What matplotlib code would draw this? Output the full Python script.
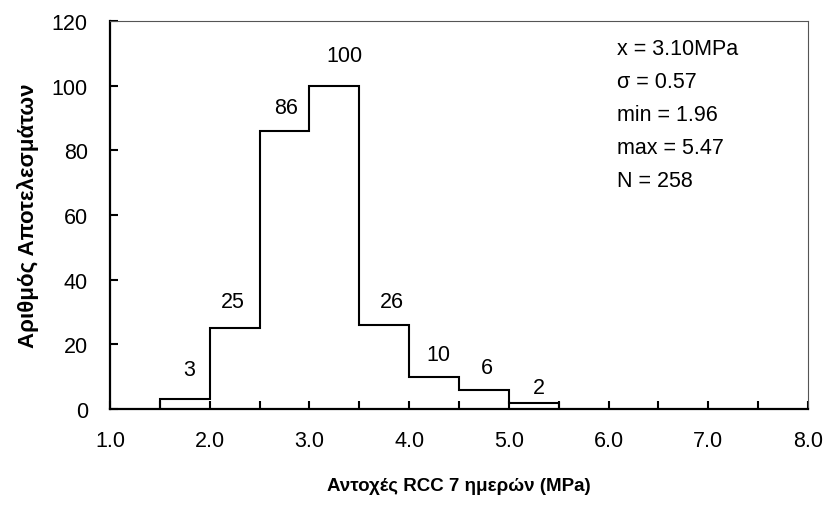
import matplotlib
matplotlib.use("Agg")
import matplotlib.pyplot as plt
from matplotlib.ticker import MultipleLocator

# histogram data
bin_edges = [1.5, 2.0, 2.5, 3.0, 3.5, 4.0, 4.5, 5.0, 5.5]
counts = [3, 25, 86, 100, 26, 10, 6, 2]
# where the count labels sit (data coords, as placed in the original)
label_x = [1.79, 2.23, 2.77, 3.35, 3.83, 4.29, 4.78, 5.30]
label_y = [12.1, 33.1, 93.4, 109.2, 33.4, 17.0, 12.7, 6.5]
stats_lines = ["x = 3.10MPa", "σ = 0.57", "min = 1.96", "max = 5.47", "N = 258"]

plt.rcParams['font.family'] = ['Liberation Sans', 'DejaVu Sans']
plt.rcParams['font.size'] = 15.5

fig = plt.figure(figsize=(8.28, 5.06), dpi=100)
ax = fig.add_axes([0.1329, 0.1897, 0.9758 - 0.1329, 0.9565 - 0.1897])

ax.stairs(counts, bin_edges, baseline=0, fill=False, color='black', linewidth=1.5)

for xl, yl, c in zip(label_x, label_y, counts):
    ax.text(xl, yl, str(c), ha='center', va='center')

ax.set_xlim(1.0, 8.0)
ax.set_ylim(0, 120)
ax.xaxis.set_major_locator(MultipleLocator(1.0))
ax.xaxis.set_minor_locator(MultipleLocator(0.5))
ax.yaxis.set_major_locator(MultipleLocator(20))
ax.xaxis.set_major_formatter(lambda v, p: f"{v:.1f}")

ax.tick_params(axis='both', which='both', direction='in', length=6, width=1.5,
               top=False, right=False)
ax.tick_params(axis='x', which='major', pad=15)
ax.tick_params(axis='y', which='major', pad=16)

for side in ['left', 'bottom']:
    ax.spines[side].set_linewidth(1.6)
    ax.spines[side].set_color('black')
for side in ['top', 'right']:
    ax.spines[side].set_linewidth(0.8)
    ax.spines[side].set_color('#555555')

ax.set_xlabel("Αντοχές RCC 7 ημερών (MPa)", fontweight='bold', fontsize=13.5, labelpad=19)
ax.set_ylabel("Αριθμός Αποτελεσμάτων", fontweight='bold', fontsize=16, labelpad=9)

for i, line in enumerate(stats_lines):
    ax.text(0.726, 0.930 - i * 0.085, line, transform=ax.transAxes,
            ha='left', va='center')

fig.savefig("out.png", dpi=100)
